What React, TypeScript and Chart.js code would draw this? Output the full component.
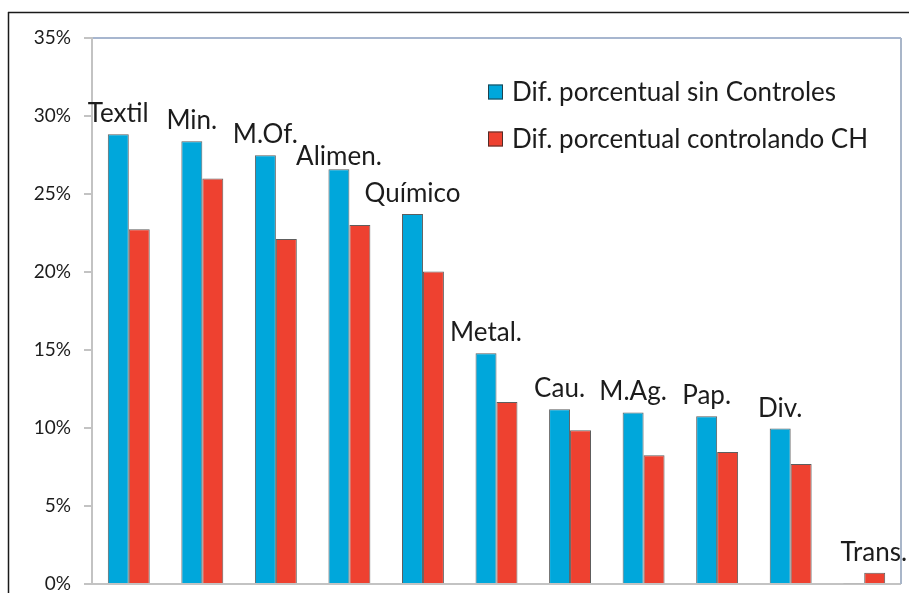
import React, { useEffect, useRef } from "react";
import { Chart, registerables } from "chart.js";

Chart.register(...registerables);

const categories = ["Textil", "Min.", "M.Of.", "Alimen.", "Químico", "Metal.", "Cau.", "M.Ag.", "Pap.", "Div.", "Trans."];
const sinControles = [28.83, 28.38, 27.48, 26.58, 23.72, 14.79, 11.2, 11.0, 10.75, 9.96, 0.05];
const controlandoCH = [22.74, 26.0, 22.12, 23.01, 20.04, 11.67, 9.85, 8.25, 8.46, 7.69, 0.72];
const seriesNames = ["Dif. porcentual sin Controles", "Dif. porcentual controlando CH"];
const yMin = 0;
const yMax = 35;
const yStep = 5;

const FONT = 'Lato, "Open Sans", "DejaVu Sans", sans-serif';
const BLUE = "#00a7db";
const RED = "#ee4130";
const TEXT = "#1c1c1c";

// label placement tweaks (styling only): gap above bar and horizontal nudge
const LABEL_GAP_DEFAULT = 12;
const labelGapOverride: Record<string, number> = { "Alimen.": 4 };
const labelShiftOverride: Record<string, number> = { "Trans.": 20 };

const decorPlugin = {
  id: "decor",
  beforeDraw(chart: any) {
    const { ctx, width, height } = chart;
    ctx.save();
    ctx.fillStyle = "#ffffff";
    ctx.fillRect(0, 0, width, height);
    ctx.strokeStyle = "#1a1a1a";
    ctx.lineWidth = 1.5;
    ctx.beginPath();
    ctx.moveTo(8, 12.5);
    ctx.lineTo(width, 12.5);
    ctx.moveTo(8.5, 12);
    ctx.lineTo(8.5, height);
    ctx.stroke();
    ctx.restore();
  },
  afterDraw(chart: any) {
    const { ctx, chartArea } = chart;
    ctx.save();
    ctx.strokeStyle = "#a9b6c9";
    ctx.lineWidth = 2;
    ctx.beginPath();
    ctx.moveTo(chartArea.right, chartArea.top);
    ctx.lineTo(chartArea.right, chartArea.bottom);
    ctx.stroke();

    const m0 = chart.getDatasetMeta(0);
    const m1 = chart.getDatasetMeta(1);
    ctx.font = `26px ${FONT}`;
    ctx.fillStyle = TEXT;
    ctx.textAlign = "center";
    ctx.textBaseline = "alphabetic";
    chart.data.labels.forEach((lab: string, i: number) => {
      const b0 = m0.data[i];
      const b1 = m1.data[i];
      const top = Math.min(b0.y, b1.y);
      const gap = labelGapOverride[lab] ?? LABEL_GAP_DEFAULT;
      const dx = labelShiftOverride[lab] ?? 0;
      ctx.fillText(lab, b0.x + dx, top - gap);
    });

    const lx = 488;
    const rows = [92, 139];
    ctx.textAlign = "left";
    ctx.textBaseline = "middle";
    chart.data.datasets.forEach((ds: any, i: number) => {
      const cy = rows[i];
      ctx.fillStyle = ds.backgroundColor;
      ctx.fillRect(lx, cy - 7.5, 15, 15);
      ctx.strokeStyle = "rgba(40,40,40,0.8)";
      ctx.lineWidth = 1;
      ctx.strokeRect(lx + 0.5, cy - 7, 14, 14);
      ctx.fillStyle = TEXT;
      ctx.font = `26px ${FONT}`;
      ctx.fillText(ds.label, lx + 24, cy + 1);
    });
    ctx.restore();
  },
};

export default function App() {
  const ref = useRef<HTMLCanvasElement>(null);
  useEffect(() => {
    if (!ref.current) return;
    const chart = new Chart(ref.current, {
      type: "bar",
      data: {
        labels: categories,
        datasets: [
          {
            label: seriesNames[0],
            data: sinControles,
            backgroundColor: BLUE,
            borderColor: "rgba(40,40,40,0.75)",
            borderWidth: 1,
            categoryPercentage: 0.57,
            barPercentage: 1,
          },
          {
            label: seriesNames[1],
            data: controlandoCH,
            backgroundColor: RED,
            borderColor: "rgba(40,40,40,0.75)",
            borderWidth: 1,
            categoryPercentage: 0.57,
            barPercentage: 1,
          },
        ],
      },
      options: {
        responsive: false,
        animation: false,
        layout: { padding: { left: 0, right: 8, top: 38, bottom: 9 } },
        plugins: { legend: { display: false }, tooltip: { enabled: false } },
        scales: {
          x: { display: false },
          y: {
            min: yMin,
            max: yMax,
            afterFit: (s: any) => {
              s.width = 92;
              s.paddingTop = 0;
              s.paddingBottom = 0;
            },
            ticks: {
              stepSize: yStep,
              padding: 13,
              color: TEXT,
              font: { family: FONT, size: 19 },
              callback: (v: any) => `${v}%`,
            },
            grid: {
              color: (c: any) =>
                c.tick && c.tick.value === yMax
                  ? "#a7b6cf"
                  : c.tick && c.tick.value === yMin
                  ? "#c3c3c3"
                  : "rgba(0,0,0,0)",
              lineWidth: 2,
              tickColor: "#c3c3c3",
              tickLength: 8,
            },
            border: { display: true, color: "#c3c3c3", width: 2 },
          },
        },
      },
      plugins: [decorPlugin],
    });
    return () => chart.destroy();
  }, []);
  return (
    <div style={{ position: "absolute", left: 0, top: 0, width: 909, height: 593 }}>
      <canvas ref={ref} width={909} height={593} style={{ display: "block" }} />
    </div>
  );
}
